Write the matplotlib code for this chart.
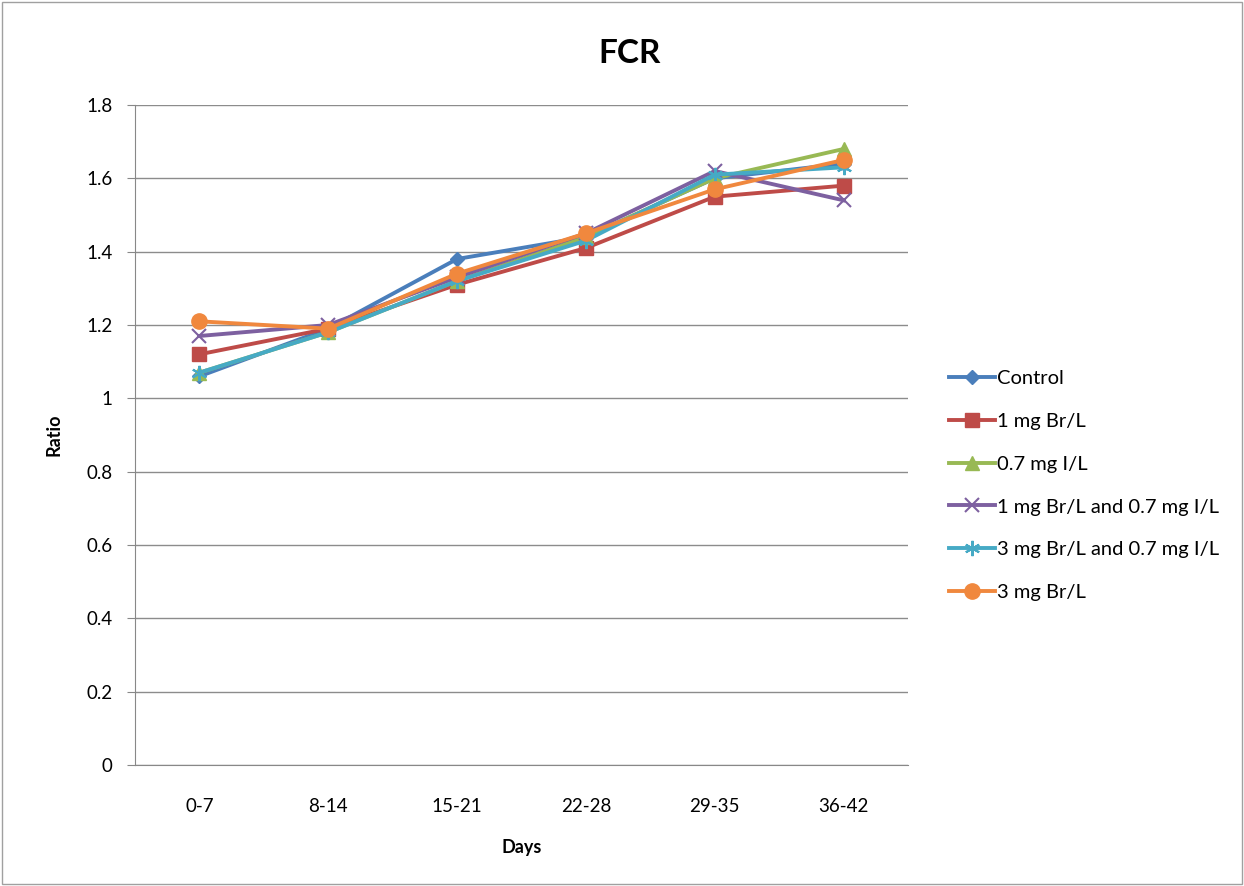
import matplotlib
matplotlib.use("Agg")
import matplotlib.pyplot as plt
from matplotlib.patches import Rectangle

plt.rcParams['font.family'] = ['Lato', 'DejaVu Sans']

days = ["0-7", "8-14", "15-21", "22-28", "29-35", "36-42"]
control = [1.06, 1.19, 1.38, 1.44, 1.60, 1.64]
br1 = [1.12, 1.19, 1.31, 1.41, 1.55, 1.58]
i07 = [1.07, 1.18, 1.32, 1.44, 1.60, 1.68]
br1_i07 = [1.17, 1.20, 1.33, 1.45, 1.62, 1.54]
br3_i07 = [1.07, 1.18, 1.32, 1.43, 1.61, 1.63]
br3 = [1.21, 1.19, 1.34, 1.45, 1.57, 1.65]

series = [
    ("Control", control, "#4A7EBB", "D", 7),
    ("1 mg Br/L", br1, "#BE4B48", "s", 10),
    ("0.7 mg I/L", i07, "#98B954", "^", 10),
    ("1 mg Br/L and 0.7 mg I/L", br1_i07, "#7D60A0", "x", 10),
    ("3 mg Br/L and 0.7 mg I/L", br3_i07, "#46AAC5", (6, 2, 0), 11),
    ("3 mg Br/L", br3, "#F0883E", "o", 11),
]

fig = plt.figure(figsize=(12.44, 8.86), dpi=100)
fig.patches.append(Rectangle((0.0015, 0.002), 0.997, 0.996, transform=fig.transFigure,
                             fill=False, edgecolor="#A0A0A0", linewidth=1))
ax = fig.add_axes([0.1085, 0.1366, 0.6214, 0.7449])

x = [i + 0.5 for i in range(len(days))]
for name, vals, color, marker, ms in series:
    mew = 1.5 if marker in ("x", (6, 2, 0)) else 1
    ax.plot(x, vals, color=color, linewidth=2.8, marker=marker, markersize=ms,
            markeredgewidth=mew, markeredgecolor=color, label=name)

ax.set_xlim(0, 6)
ax.set_ylim(0, 1.8)
ax.set_yticks([0, 0.2, 0.4, 0.6, 0.8, 1.0, 1.2, 1.4, 1.6, 1.8])
ax.set_yticklabels(["0", "0.2", "0.4", "0.6", "0.8", "1", "1.2", "1.4", "1.6", "1.8"])
ax.set_xticks(x)
ax.set_xticklabels(days)
ax.tick_params(axis="x", length=0, pad=24, labelsize=13.5)
ax.tick_params(axis="y", length=6, color="#888888", labelsize=13.5, pad=10)
ax.grid(axis="y", color="#8C8C8C", linewidth=1)
ax.set_axisbelow(True)
for s in ["top", "right"]:
    ax.spines[s].set_visible(False)
for s in ["left", "bottom"]:
    ax.spines[s].set_color("#888888")

fig.text(0.506, 0.94, "FCR", fontsize=24, fontweight="bold", ha="center", va="center")
ax.set_xlabel("Days", fontsize=13, fontweight="bold", labelpad=17)
ax.set_ylabel("Ratio", fontsize=13, fontweight="bold", labelpad=17)

fig.legend(loc="center left", bbox_to_anchor=(0.756, 0.452), frameon=False,
           fontsize=14.5, handlelength=2.3, handletextpad=0.12, labelspacing=1.28,
           borderaxespad=0)

fig.savefig("out.png", dpi=100)
